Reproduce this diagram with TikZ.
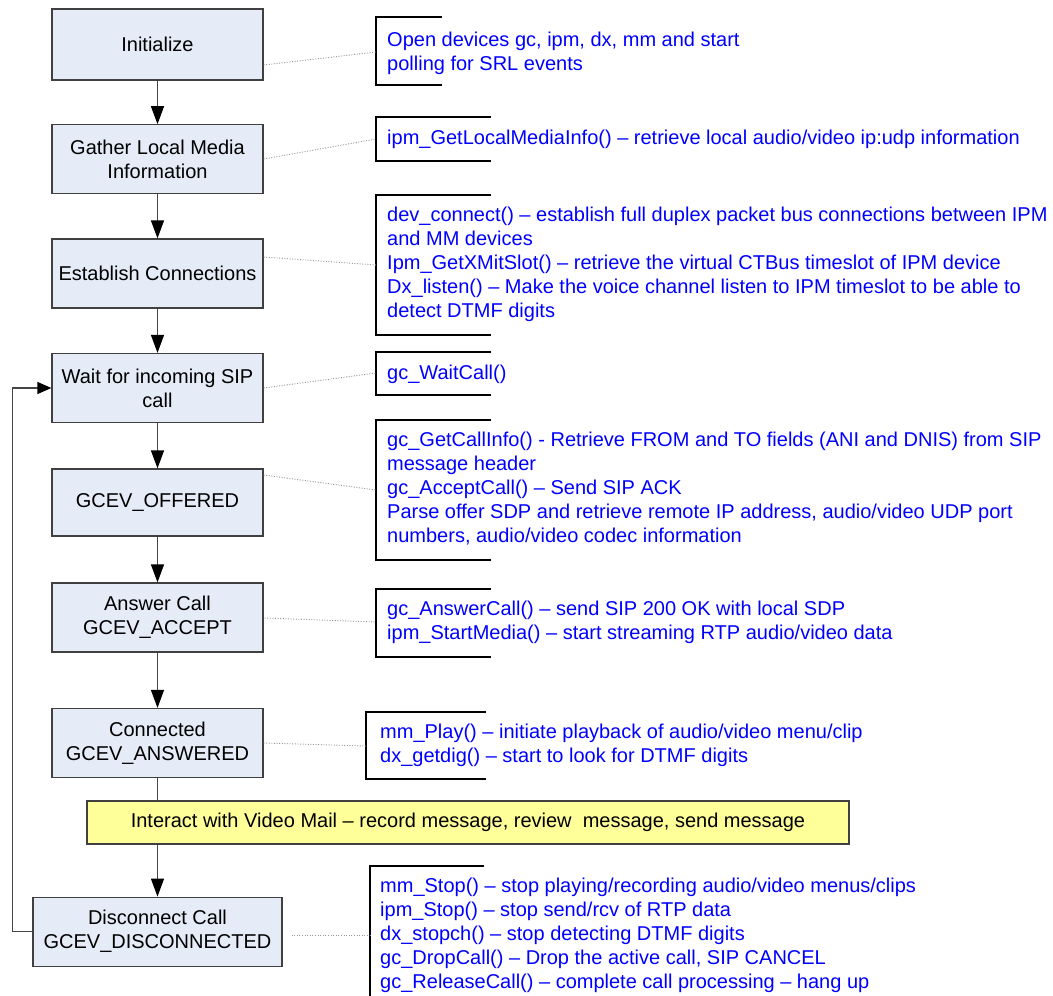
\documentclass[tikz,border=0pt]{standalone}
\usepackage{fontspec}
\setmainfont{Liberation Sans}
\usetikzlibrary{arrows.meta}
\definecolor{boxfill}{RGB}{230,236,247}
\definecolor{boxline}{RGB}{64,64,64}
\definecolor{yellowfill}{RGB}{255,255,153}
\definecolor{noteblue}{RGB}{0,0,255}
\definecolor{dotgray}{RGB}{150,150,150}
\definecolor{flowgray}{RGB}{70,70,70}
\begin{document}
\begin{tikzpicture}[x=1pt,y=-1pt,
  stepbox/.style={draw=boxline, line width=1.2pt, fill=boxfill, minimum width=211pt,
    minimum height=69pt, align=center, inner sep=0pt, font=\fontsize{20}{24}\selectfont},
  notetext/.style={anchor=west, inner sep=0pt, align=left, text=noteblue,
    font=\fontsize{20}{24}\selectfont},
  bracketline/.style={draw=black, line width=1.2pt},
  dotline/.style={draw=dotgray, line width=0.9pt, dash pattern=on 1pt off 1.6pt},
  flow/.style={draw=flowgray, line width=1.2pt, -{Triangle[length=18pt,width=13pt,color=black]}},
  backflow/.style={draw=flowgray, line width=1.2pt, -{Triangle[length=14pt,width=12pt,color=black]}},
  plainflow/.style={draw=flowgray, line width=1.2pt}
]
\useasboundingbox (0,0) rectangle (1053,996);

% main boxes
\node[stepbox, minimum height=71pt] (init) at (157.5,44.5) {Initialize};
\node[stepbox] (gather) at (157.5,159.3) {Gather Local Media\\Information};
\node[stepbox] (estab) at (157.5,273.5) {Establish Connections};
\node[stepbox] (wait) at (157.5,388) {Wait for incoming SIP\\call};
\node[stepbox, minimum height=67pt] (offered) at (157.5,502.5) {GCEV\_OFFERED};
\node[stepbox] (answer) at (157.5,617.5) {Answer Call\\GCEV\_ACCEPT};
\node[stepbox] (conn) at (157.5,743) {Connected\\GCEV\_ANSWERED};
\node[draw=boxline, line width=1.2pt, fill=yellowfill, minimum width=762pt, minimum height=43pt,
  inner sep=0pt, font=\fontsize{20}{24}\selectfont] (interact) at (468,822.5)
  {Interact with Video Mail – record message, review\ \ message, send message};
\node[stepbox, minimum width=249pt] (disc) at (157.5,931.7) {Disconnect Call\\GCEV\_DISCONNECTED};

% flow connectors
\draw[flow] (init) -- (gather);
\draw[flow] (gather) -- (estab);
\draw[flow] (estab) -- (wait);
\draw[flow] (wait) -- (offered);
\draw[flow] (offered) -- (answer);
\draw[flow] (answer) -- (conn);
\draw[plainflow] (conn.south) -- (conn.south |- interact.north);
\draw[flow] (disc.north |- interact.south) -- (disc.north);
\draw[backflow] (disc.west) -- ++(-20,0) |- (wait.west);

% annotation texts
\node[notetext] (n1) at (387,53) {Open devices gc, ipm, dx, mm and start\\polling for SRL events};
\node[notetext] (n2) at (387,139) {ipm\_GetLocalMediaInfo() – retrieve local audio/video ip:udp information};
\node[notetext] (n3) at (387,264) {dev\_connect() – establish full duplex packet bus connections between IPM\\and MM devices\\Ipm\_GetXMitSlot() – retrieve the virtual CTBus timeslot of IPM device\\Dx\_listen() – Make the voice channel listen to IPM timeslot to be able to\\detect DTMF digits};
\node[notetext] (n4) at (387,374) {gc\_WaitCall()};
\node[notetext] (n5) at (387,489) {gc\_GetCallInfo() - Retrieve FROM and TO fields (ANI and DNIS) from SIP\\message header\\gc\_AcceptCall() – Send SIP ACK\\Parse offer SDP and retrieve remote IP address, audio/video UDP port\\numbers, audio/video codec information};
\node[notetext] (n6) at (387,622) {gc\_AnswerCall() – send SIP 200 OK with local SDP\\ipm\_StartMedia() – start streaming RTP audio/video data};
\node[notetext] (n7) at (380,745) {mm\_Play() – initiate playback of audio/video menu/clip\\dx\_getdig() – start to look for DTMF digits};
\node[notetext] (n8) at (380,935) {mm\_Stop() – stop playing/recording audio/video menus/clips\\ipm\_Stop() – stop send/rcv of RTP data\\dx\_stopch() – stop detecting DTMF digits\\gc\_DropCall() – Drop the active call, SIP CANCEL\\gc\_ReleaseCall() – complete call processing – hang up};

% brackets
\draw[bracketline] (442,17) -- (376,17) -- (376,85) -- (442,85);
\draw[bracketline] (491,117) -- (376,117) -- (376,161) -- (491,161);
\draw[bracketline] (491,195) -- (376,195) -- (376,335) -- (491,335);
\draw[bracketline] (491,352) -- (376,352) -- (376,395) -- (491,395);
\draw[bracketline] (491,420) -- (376,420) -- (376,560) -- (491,560);
\draw[bracketline] (491,589) -- (376,589) -- (376,657) -- (491,657);
\draw[bracketline] (486,712) -- (366,712) -- (366,779) -- (486,779);
\draw[bracketline] (484,866) -- (370,866) -- (370,997);

% bracket anchor points
\coordinate (b1) at (376,52);
\coordinate (b2) at (376,139);
\coordinate (b3) at (376,265);
\coordinate (b4) at (376,373);
\coordinate (b5) at (376,490);
\coordinate (b6) at (376,622);
\coordinate (b7) at (366,746);
\coordinate (b8) at (370,935);

% dotted connectors
\draw[dotline] (init.east |- 0,65) -- (b1);
\draw[dotline] (gather.east |- 0,159) -- (b2);
\draw[dotline] (estab.east |- 0,257) -- (b3);
\draw[dotline] (wait.east |- 0,388) -- (b4);
\draw[dotline] (offered.east |- 0,475) -- (b5);
\draw[dotline] ([xshift=1pt]answer.east |- 0,618) -- (b6);
\draw[dotline] (conn.east |- 0,743) -- (b7);
\draw[dotline] ([xshift=9pt]disc.east |- 0,935) -- (b8);
\end{tikzpicture}
\end{document}
